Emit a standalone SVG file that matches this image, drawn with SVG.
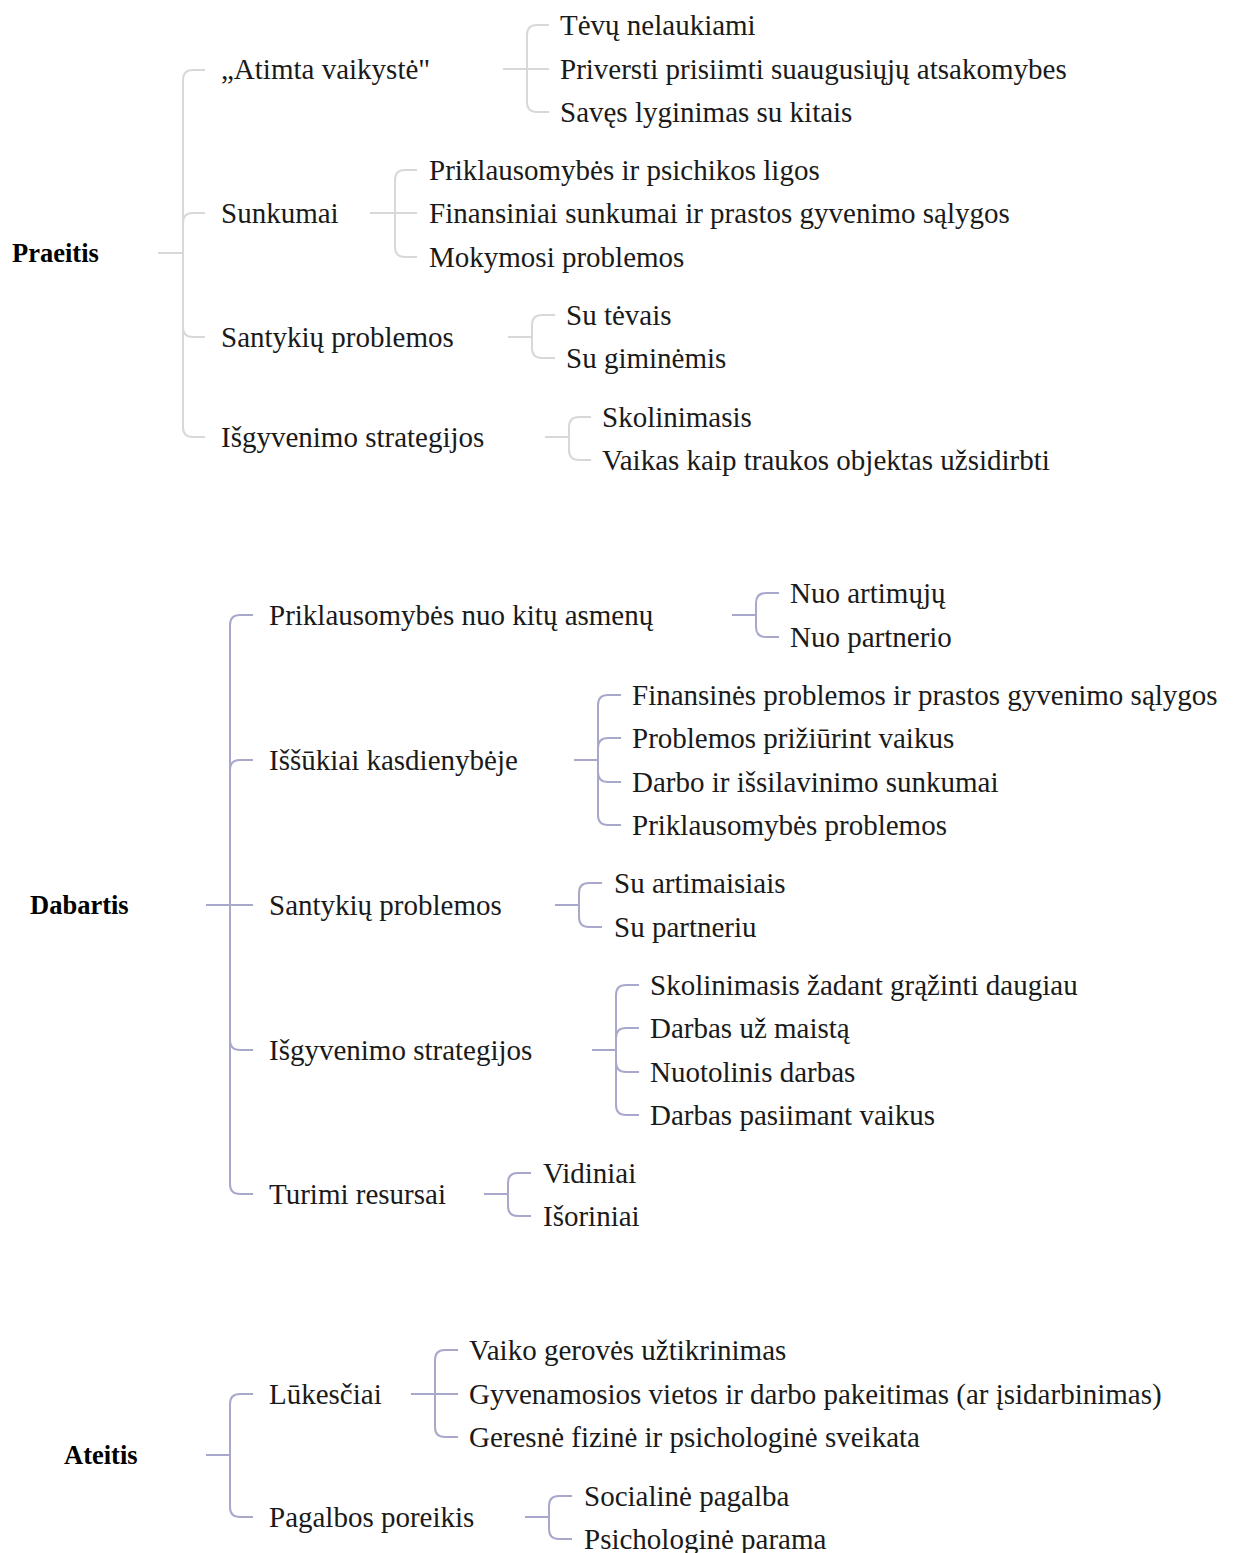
<svg xmlns="http://www.w3.org/2000/svg" width="1233" height="1553" viewBox="0 0 1233 1553" font-family="'Liberation Serif', serif">
<style>
text{font-family:'Liberation Serif',serif;font-size:29px;fill:#1a1a1a}
.root{font-weight:bold;font-size:26.5px;fill:#000}
.g path{fill:none;stroke:#d8d8d8;stroke-width:2}
.p path{fill:none;stroke:#a8a8cc;stroke-width:2}
</style>
<rect width="1233" height="1553" fill="#fff"/>
<g id="connectors">
<g class="g">
<path d="M158,253H183M183,80V427M183,80Q183,70 193,70H205M183,223Q183,213 193,213H205M183,327Q183,337 193,337H205M183,427Q183,437 193,437H205"/>
<path d="M503,69H549M527,35V102M527,35Q527,25 537,25H549M527,102Q527,112 537,112H549"/>
<path d="M370,213H417M395,180V247M395,180Q395,170 405,170H417M395,247Q395,257 405,257H417"/>
<path d="M508,337H532M532,325V348M532,325Q532,315 542,315H555M532,348Q532,358 542,358H555"/>
<path d="M545,437H569M569,427V450M569,427Q569,417 579,417H591M569,450Q569,460 579,460H591"/>
</g>
<g class="p">
<path d="M206,905H253M230,625V1184M230,625Q230,615 240,615H253M230,770Q230,760 240,760H253M230,1040Q230,1050 240,1050H253M230,1184Q230,1194 240,1194H253"/>
<path d="M732,615H756M756,603V627M756,603Q756,593 766,593H779M756,627Q756,637 766,637H779"/>
<path d="M574,760H598M598,705V815M598,705Q598,695 608,695H621M598,748Q598,738 608,738H621M598,772Q598,782 608,782H621M598,815Q598,825 608,825H621"/>
<path d="M555,905H579M579,893V917M579,893Q579,883 589,883H602M579,917Q579,927 589,927H602"/>
<path d="M592,1050H616M616,995V1105M616,995Q616,985 626,985H639M616,1038Q616,1028 626,1028H639M616,1062Q616,1072 626,1072H639M616,1105Q616,1115 626,1115H639"/>
<path d="M484,1194H508M508,1183V1206M508,1183Q508,1173 518,1173H531M508,1206Q508,1216 518,1216H531"/>
<path d="M206,1455H230M230,1404V1507M230,1404Q230,1394 240,1394H253M230,1507Q230,1517 240,1517H253"/>
<path d="M411,1394H458M435,1360V1427M435,1360Q435,1350 445,1350H458M435,1427Q435,1437 445,1437H458"/>
<path d="M525,1517H549M549,1506V1529M549,1506Q549,1496 559,1496H572M549,1529Q549,1539 559,1539H572"/>
</g>
</g>
<g id="praeitis"><text class="root" x="12" y="262">Praeitis</text></g>
<g id="p1"><text x="221" y="79">„Atimta vaikystė"</text></g>
<g id="p1a"><text x="560" y="35">Tėvų nelaukiami</text></g>
<g id="p1b"><text x="560" y="79">Priversti prisiimti suaugusiųjų atsakomybes</text></g>
<g id="p1c"><text x="560" y="122">Savęs lyginimas su kitais</text></g>
<g id="p2"><text x="221" y="223">Sunkumai</text></g>
<g id="p2a"><text x="429" y="180">Priklausomybės ir psichikos ligos</text></g>
<g id="p2b"><text x="429" y="223">Finansiniai sunkumai ir prastos gyvenimo sąlygos</text></g>
<g id="p2c"><text x="429" y="267">Mokymosi problemos</text></g>
<g id="p3"><text x="221" y="347">Santykių problemos</text></g>
<g id="p3a"><text x="566" y="325">Su tėvais</text></g>
<g id="p3b"><text x="566" y="368">Su giminėmis</text></g>
<g id="p4"><text x="221" y="447">Išgyvenimo strategijos</text></g>
<g id="p4a"><text x="602" y="427">Skolinimasis</text></g>
<g id="p4b"><text x="602" y="470">Vaikas kaip traukos objektas užsidirbti</text></g>

<g id="dabartis"><text class="root" x="30" y="914">Dabartis</text></g>
<g id="d1"><text x="269" y="625">Priklausomybės nuo kitų asmenų</text></g>
<g id="d1a"><text x="790" y="603">Nuo artimųjų</text></g>
<g id="d1b"><text x="790" y="647">Nuo partnerio</text></g>
<g id="d2"><text x="269" y="770">Iššūkiai kasdienybėje</text></g>
<g id="d2a"><text x="632" y="705">Finansinės problemos ir prastos gyvenimo sąlygos</text></g>
<g id="d2b"><text x="632" y="748">Problemos prižiūrint vaikus</text></g>
<g id="d2c"><text x="632" y="792">Darbo ir išsilavinimo sunkumai</text></g>
<g id="d2d"><text x="632" y="835">Priklausomybės problemos</text></g>
<g id="d3"><text x="269" y="915">Santykių problemos</text></g>
<g id="d3a"><text x="614" y="893">Su artimaisiais</text></g>
<g id="d3b"><text x="614" y="937">Su partneriu</text></g>
<g id="d4"><text x="269" y="1060">Išgyvenimo strategijos</text></g>
<g id="d4a"><text x="650" y="995">Skolinimasis žadant grąžinti daugiau</text></g>
<g id="d4b"><text x="650" y="1038">Darbas už maistą</text></g>
<g id="d4c"><text x="650" y="1082">Nuotolinis darbas</text></g>
<g id="d4d"><text x="650" y="1125">Darbas pasiimant vaikus</text></g>
<g id="d5"><text x="269" y="1204">Turimi resursai</text></g>
<g id="d5a"><text x="543" y="1183">Vidiniai</text></g>
<g id="d5b"><text x="543" y="1226">Išoriniai</text></g>

<g id="ateitis"><text class="root" x="64" y="1464">Ateitis</text></g>
<g id="a1"><text x="269" y="1404">Lūkesčiai</text></g>
<g id="a1a"><text x="469" y="1360">Vaiko gerovės užtikrinimas</text></g>
<g id="a1b"><text x="469" y="1404">Gyvenamosios vietos ir darbo pakeitimas (ar įsidarbinimas)</text></g>
<g id="a1c"><text x="469" y="1447">Geresnė fizinė ir psichologinė sveikata</text></g>
<g id="a2"><text x="269" y="1527">Pagalbos poreikis</text></g>
<g id="a2a"><text x="584" y="1506">Socialinė pagalba</text></g>
<g id="a2b"><text x="584" y="1549">Psichologinė parama</text></g>
</svg>
